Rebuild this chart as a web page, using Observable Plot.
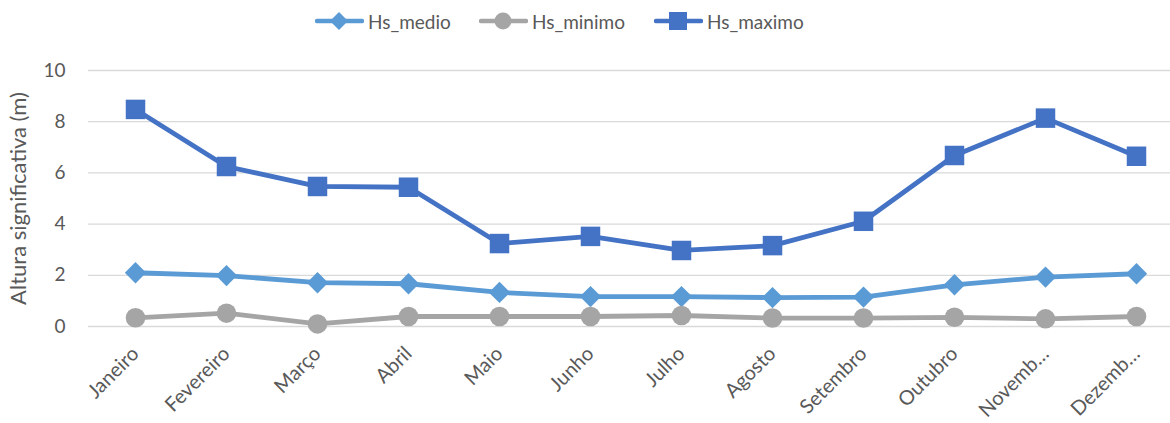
<!DOCTYPE html>
<html>
<head>
<meta charset="utf-8">
<script src="https://cdn.jsdelivr.net/npm/d3@7"></script>
<script src="https://cdn.jsdelivr.net/npm/@observablehq/plot@0.6"></script>
<style>
  body { margin: 0; background: #fff; font-family: Lato, "Noto Sans", sans-serif; }
  #legend { height: 40px; position: relative; }
  .item { position: absolute; top: 8px; display: flex; align-items: center; font-size: 19px; color: #595959; }
  .item svg { margin-right: 4px; }
</style>
</head>
<body>
<div id="legend"></div>
<div id="chart"></div>
<script>
const months = ["Janeiro","Fevereiro","Março","Abril","Maio","Junho","Julho","Agosto","Setembro","Outubro","Novemb…","Dezemb…"];
const hsMedio  = [2.10, 1.99, 1.71, 1.67, 1.33, 1.17, 1.17, 1.13, 1.15, 1.63, 1.93, 2.06];
const hsMinimo = [0.34, 0.52, 0.10, 0.39, 0.39, 0.39, 0.43, 0.33, 0.33, 0.36, 0.30, 0.39];
const hsMaximo = [8.48, 6.25, 5.47, 5.44, 3.24, 3.52, 2.97, 3.16, 4.11, 6.68, 8.14, 6.65];
const yTicks = [0, 2, 4, 6, 8, 10];

const series = [
  {name: "Hs_medio", values: hsMedio, color: "#5B9BD5", symbol: "diamond2", r: 9.6},
  {name: "Hs_minimo", values: hsMinimo, color: "#A5A5A5", symbol: "circle", r: 9.8},
  {name: "Hs_maximo", values: hsMaximo, color: "#4472C4", symbol: "square", r: 11}
];

const rows = series.flatMap(s => s.values.map((v, i) => ({series: s.name, month: months[i], value: v})));

// legend
const legendPos = [315, 479, 654];
const legend = document.getElementById("legend");
series.forEach((s, k) => {
  const div = document.createElement("div");
  div.className = "item";
  div.style.left = legendPos[k] + "px";
  let marker;
  if (s.symbol === "diamond2") marker = `<polygon points="24,4 33,13 24,22 15,13" fill="${s.color}"/>`;
  else if (s.symbol === "circle") marker = `<circle cx="24" cy="13" r="8.5" fill="${s.color}"/>`;
  else marker = `<rect x="15" y="4" width="18" height="18" fill="${s.color}"/>`;
  div.innerHTML = `<svg width="49" height="26"><line x1="2" y1="13" x2="47" y2="13" stroke="${s.color}" stroke-width="4.5" stroke-linecap="round"/>${marker}</svg><span>${s.name}</span>`;
  legend.appendChild(div);
});

const chart = Plot.plot({
  width: 1170,
  height: 383,
  marginLeft: 88,
  marginRight: 0,
  marginTop: 30,
  marginBottom: 97,
  style: {fontFamily: "Lato, 'Noto Sans', sans-serif", fontSize: "18px", color: "#595959", background: "#fff", overflow: "visible"},
  x: {type: "point", domain: months, range: [133, 1137], padding: 0},
  y: {domain: [0, 10], ticks: yTicks},
  marks: [
    Plot.ruleY(yTicks, {stroke: "#D9D9D9", strokeWidth: 1.3}),
    Plot.axisY({ticks: yTicks, tickSize: 0, tickPadding: 23, fontSize: 19, fill: "#595959", label: null}),
    Plot.axisY({ticks: [], fontSize: 22, fill: "#595959", dy: 15,
      label: "Altura significativa (m)", labelAnchor: "center", labelArrow: "none", labelOffset: 78}),
    Plot.axisX({tickRotate: -45, tickSize: 0, tickPadding: 24, fontSize: 20, fill: "#595959", label: null}),
    ...series.map(s => Plot.line(rows.filter(d => d.series === s.name), {x: "month", y: "value", stroke: s.color, strokeWidth: 4.8, strokeLinejoin: "round", strokeLinecap: "round"})),
    ...series.map(s => Plot.dot(rows.filter(d => d.series === s.name), {x: "month", y: "value", fill: s.color, stroke: "none", symbol: s.symbol, r: s.r}))
  ]
});
document.getElementById("chart").appendChild(chart);
</script>
</body>
</html>
